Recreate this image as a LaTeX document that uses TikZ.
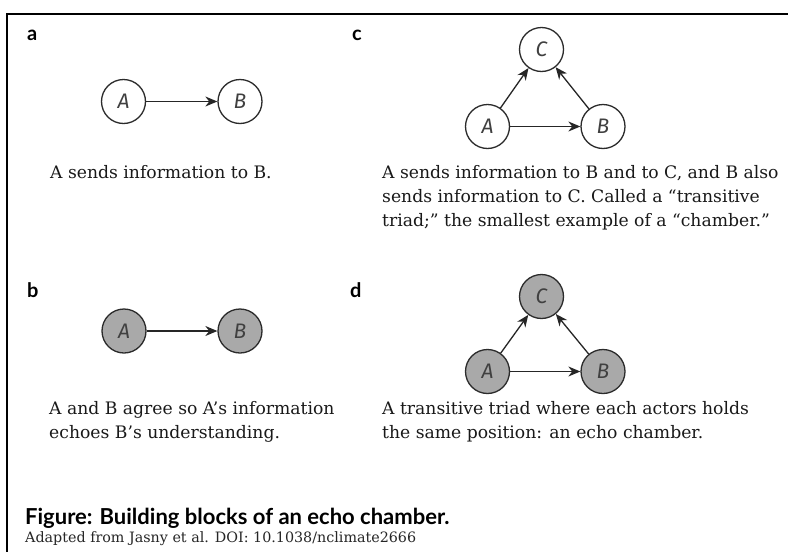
\documentclass[tikz,border=0pt]{standalone}
\usepackage{fontspec}
\setmainfont{DejaVu Serif}
\newfontfamily\labfont{Lato}
\newfontfamily\nodefont{Fira Sans}
\usetikzlibrary{arrows.meta}
\definecolor{nodegray}{HTML}{A9A9A9}
\definecolor{edgecol}{HTML}{2B2B2B}
\tikzset{
  actor/.style={circle, draw=edgecol, line width=1.3pt, minimum size=44pt, inner sep=0pt,
    font=\nodefont\itshape\fontsize{21}{22}\selectfont, text=black!75},
  agreed/.style={actor, fill=nodegray},
  link/.style={-{Stealth[length=12pt,width=10pt]}, line width=1.3pt, draw=black!85},
  panellabel/.style={anchor=base west, inner sep=0pt, font=\labfont\bfseries\fontsize{20}{20}\selectfont},
  desc/.style={anchor=north west, inner sep=0pt, align=left, font=\fontsize{17.2}{24}\selectfont, text=black!90},
}
\begin{document}
\begin{tikzpicture}[x=1pt,y=-1pt]
\useasboundingbox (0,0) rectangle (788,552);
\fill[white] (0,0) rectangle (788,552);
\draw[line width=2.2pt, black] (7,552) -- (7,14) -- (788,14);

% panel a
\node[panellabel] (la) at (27,40) {a};
\node[actor] (aA) at (123.5,101.5) {A};
\node[actor] (aB) at (240,101.5) {B};
\draw[link] (aA) -- (aB);
\node[desc] (ta) at (50,165) {A sends information to B.};

% panel c
\node[panellabel] (lc) at (352,40) {c};
\node[actor] (cC) at (541.5,49.5) {C};
\node[actor] (cA) at (487.5,126.5) {A};
\node[actor] (cB) at (603,126.5) {B};
\draw[link] (cA) -- (cB);
\draw[link] (cA) -- (cC);
\draw[link] (cB) -- (cC);
\node[desc] (tc) at (382,165) {A sends information to B and to C, and B also\\sends information to C. Called a \textquotedblleft transitive\\triad;\textquotedblright{} the smallest example of a \textquotedblleft chamber.\textquotedblright};

% panel b
\node[panellabel] (lb) at (27,297) {b};
\node[agreed] (bA) at (124,331) {A};
\node[agreed] (bB) at (240,331) {B};
\draw[link] (bA) -- (bB);
\node[desc] (tb) at (49,401) {A and B agree so A\textquoteright s information\\echoes B\textquoteright s understanding.};

% panel d
\node[panellabel] (ld) at (350,297) {d};
\node[agreed] (dC) at (541.5,296.5) {C};
\node[agreed] (dA) at (487.5,371.5) {A};
\node[agreed] (dB) at (603,371.5) {B};
\draw[link] (dA) -- (dB);
\draw[link] (dA) -- (dC);
\draw[link] (dB) -- (dC);
\node[desc] (td) at (382,401) {A transitive triad where each actors holds\\the same position: an echo chamber.};

% caption
\node[anchor=base west, inner sep=0pt, font=\labfont\bfseries\fontsize{22}{24}\selectfont] (cap) at (25,524) {Figure: Building blocks of an echo chamber.};
\node[anchor=base west, inner sep=0pt, font=\fontsize{14.3}{16}\selectfont, text=black!85] (src) at (25,542) {Adapted from Jasny et al. DOI: 10.1038/nclimate2666};
\end{tikzpicture}
\end{document}
